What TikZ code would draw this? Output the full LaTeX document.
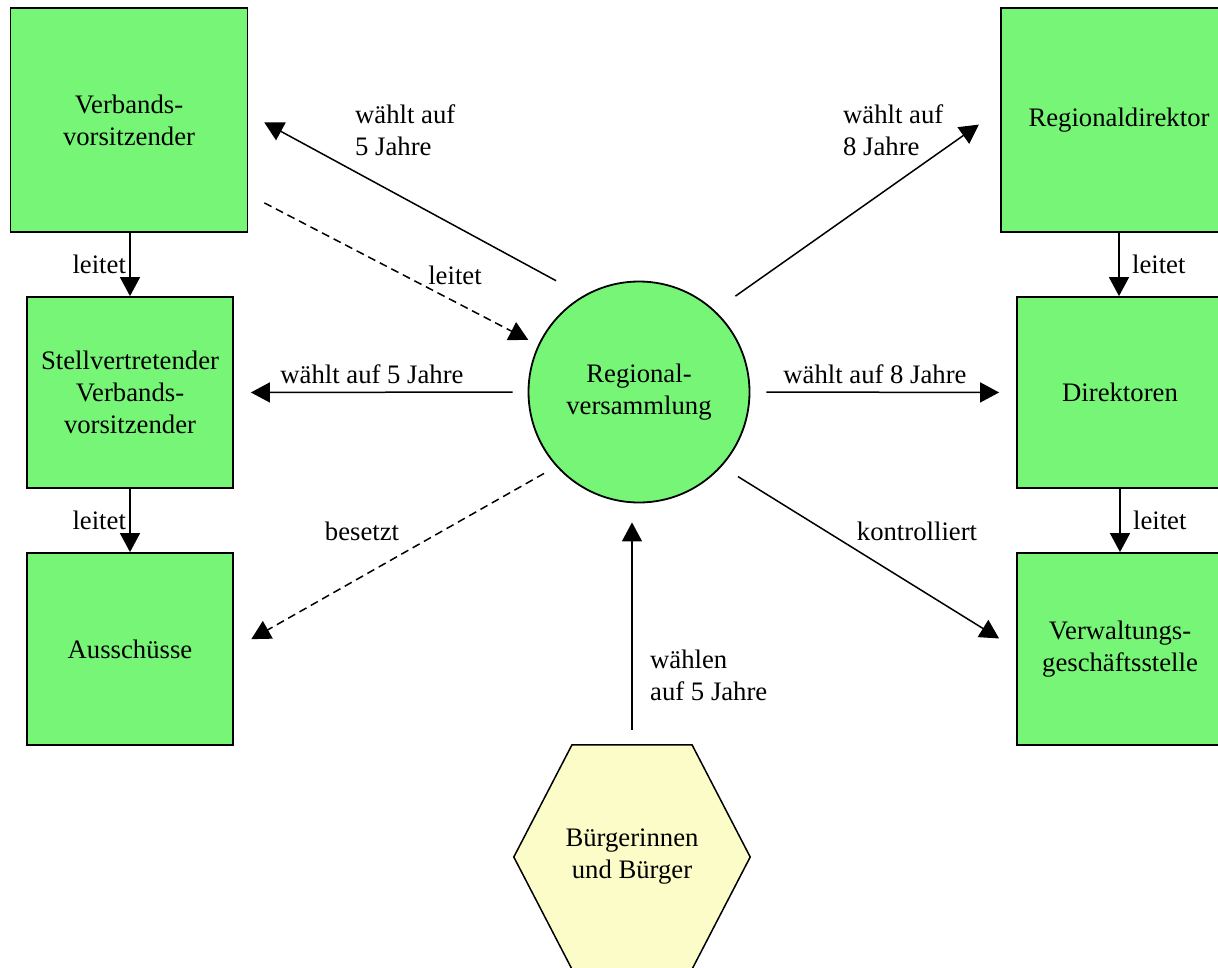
\documentclass[tikz,border=0pt]{standalone}
\usepackage{fontspec}
\setmainfont{Liberation Serif}
\usepackage{tikz}
\usetikzlibrary{arrows.meta, calc, backgrounds}

\definecolor{boxgreen}{RGB}{118,245,118}
\definecolor{hexyellow}{RGB}{252,252,200}

\tikzset{
  box/.style={draw, line width=1.8pt, fill=boxgreen, align=center, inner sep=0pt},
  pfeil/.style={-{Triangle[length=19pt,width=20pt]}, line width=1.5pt},
  gestrichelt/.style={pfeil, dash pattern=on 8pt off 5pt},
  lbl/.style={inner sep=0pt, align=left}
}

\begin{document}
\begin{tikzpicture}[x=1pt, y=-1pt, font=\fontsize{26.7}{32}\selectfont]
  \useasboundingbox (0,0) rectangle (1218,967);

  % Linke Seite
  \node[box, minimum width=237pt, minimum height=224pt] (verb) at (129,120) {Verbands-\\vorsitzender};
  \node[box, minimum width=206pt, minimum height=191pt] (stell) at (130,392.5) {Stellvertretender\\Verbands-\\vorsitzender};
  \node[box, minimum width=206pt, minimum height=192pt] (aussch) at (130,649) {Ausschüsse};

  % Rechte Seite
  \node[box, minimum width=236pt, minimum height=224pt] (regdir) at (1119,120) {Regionaldirektor};
  \node[box, minimum width=206pt, minimum height=191pt] (dir) at (1120,392.5) {Direktoren};
  \node[box, minimum width=206pt, minimum height=192pt] (verw) at (1120,649) {Verwaltungs-\\geschäftsstelle};

  % Mitte
  \node[box, circle, minimum size=221pt] (circ) at (639,392) {Regional-\\versammlung};
  \node[minimum width=236pt, minimum height=224pt, align=center, inner sep=0pt] (buerger) at (632,857) {Bürgerinnen\\und Bürger};
  \begin{scope}[on background layer]
    \filldraw[fill=hexyellow, line width=1.5pt] (buerger.west)
      -- ($(buerger.north west)!0.246!(buerger.north east)$)
      -- ($(buerger.north west)!0.754!(buerger.north east)$)
      -- (buerger.east)
      -- ($(buerger.south west)!0.754!(buerger.south east)$)
      -- ($(buerger.south west)!0.246!(buerger.south east)$) -- cycle;
  \end{scope}

  % leitet
  \draw[pfeil] (verb.south -| stell.north) -- (stell.north) node[midway, left] {leitet};
  \draw[pfeil] (stell.south) -- (aussch.north) node[midway, left] {leitet};
  \draw[pfeil] (regdir.south) -- (regdir.south |- dir.north) node[midway, right=9pt] {leitet};
  \draw[pfeil] (dir.south) -- (verw.north) node[midway, right=9pt] {leitet};

  % von der Regionalversammlung
  \draw[pfeil, shorten <=31pt, shorten >=18pt] (circ.120) -- (verb.3);
  \draw[gestrichelt, shorten <=18pt, shorten >=11pt] (verb.-32) -- (circ.155);
  \draw[pfeil, shorten <=15pt, shorten >=17pt] (circ.west) -- (stell.east);
  \draw[gestrichelt, shorten <=14pt, shorten >=20pt] (circ.-138) -- (aussch.east);
  \draw[pfeil, shorten <=25pt, shorten >=26pt] (circ.47) -- (regdir.175);
  \draw[pfeil, shorten <=16pt, shorten >=17pt] (circ.east) -- (dir.west);
  \draw[pfeil, shorten <=19pt, shorten >=20pt] (circ.-42) -- (verw.west);
  \draw[pfeil, shorten <=15pt, shorten >=19pt] (buerger.north) -- (buerger.north |- circ.south);

  % Beschriftungen
  \node[lbl, anchor=west] (lwverb) at (355,130) {wählt auf\\5 Jahre};
  \node[lbl] (lleitet) at (455,275) {leitet};
  \node[lbl] (lwstell) at (372,374) {wählt auf 5 Jahre};
  \node[lbl] (lbesetzt) at (362,531) {besetzt};
  \node[lbl, anchor=west] (lwregdir) at (843,130) {wählt auf\\8 Jahre};
  \node[lbl] (lwdir) at (875,374) {wählt auf 8 Jahre};
  \node[lbl] (lkontr) at (917,531) {kontrolliert};
  \node[lbl, anchor=west] (lwbuerger) at (650,675) {wählen\\auf 5 Jahre};
\end{tikzpicture}
\end{document}
